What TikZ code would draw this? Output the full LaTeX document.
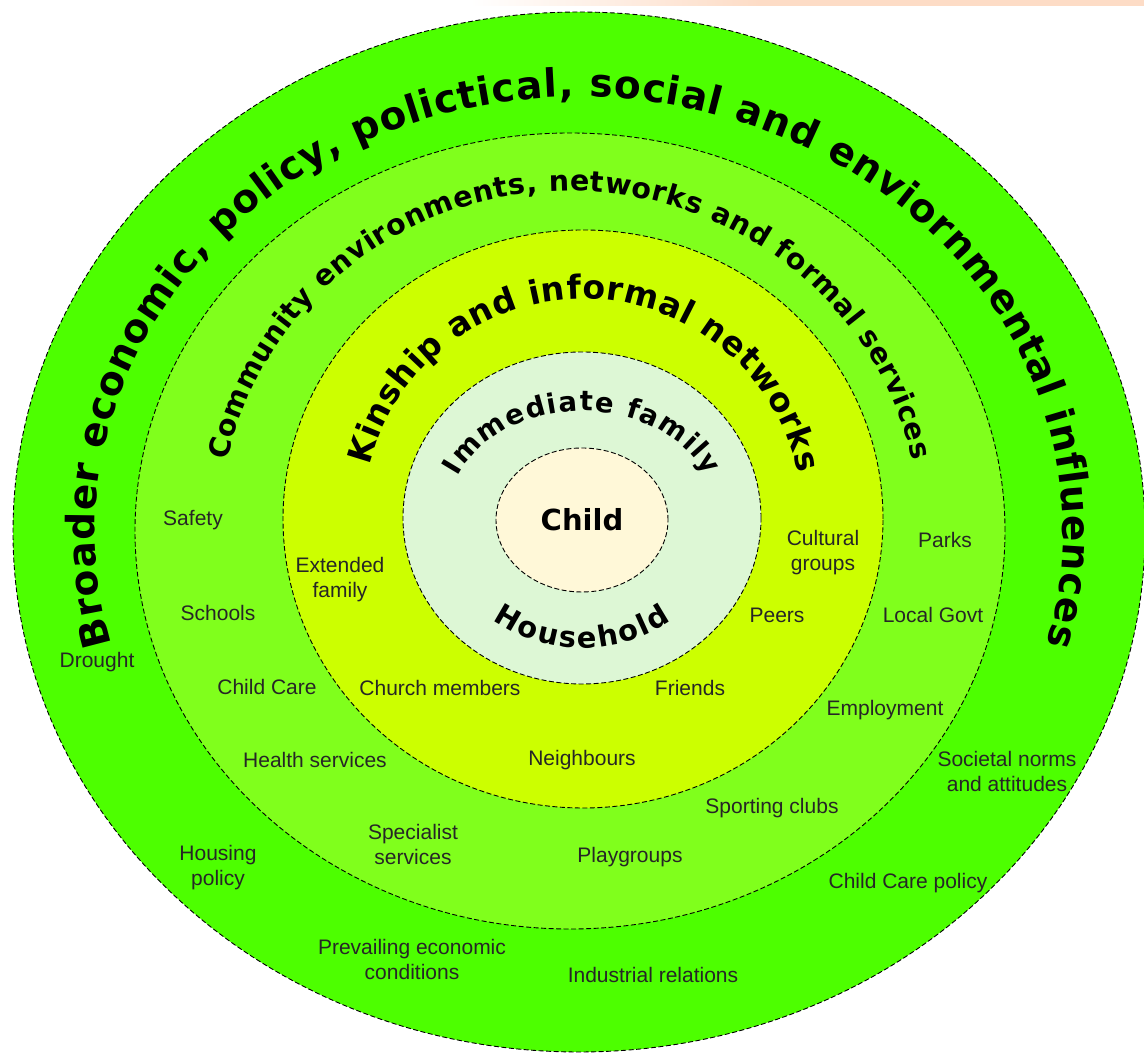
\documentclass[tikz,border=0pt]{standalone}
\usepackage{fontspec}
\newfontfamily\labelsf{Liberation Sans}
\newfontfamily\ringsf{DejaVu Sans}
\usetikzlibrary{decorations.text}
\definecolor{broad}{HTML}{4DFF00}
\definecolor{comm}{HTML}{80FF1C}
\definecolor{kin}{HTML}{CCFF00}
\definecolor{imm}{HTML}{DDF7D5}
\definecolor{kid}{HTML}{FFF8D8}
\definecolor{peach}{HTML}{FDDCC6}

\begin{document}
\begin{tikzpicture}[x=1pt,y=1pt,
    ring/.style={draw=black,line width=0.9pt,dash pattern=on 5pt off 2.5pt},
    lbl/.style={font=\labelsf\fontsize{21}{25}\selectfont,align=center,text=black!85},
    curved/.style={decorate,decoration={text along path,text align={fit to path},text={#1}}}]
  \useasboundingbox (0,0) rectangle (1144,1056);
  \fill[white] (0,0) rectangle (1144,1056);
  \fill[left color=white,right color=peach] (470,1050) rectangle (760,1056);
  \fill[peach] (760,1050) rectangle (1144,1056);

  \filldraw[ring,fill=broad] (579,524) ellipse [x radius=566,y radius=520];
  \filldraw[ring,fill=comm] (570,525) ellipse [x radius=435,y radius=398];
  \filldraw[ring,fill=kin] (583,537) ellipse [x radius=300,y radius=289];
  \filldraw[ring,fill=imm] (582,538) ellipse [x radius=179,y radius=166];
  \filldraw[ring,fill=kid] (582,536) ellipse [x radius=86,y radius=72];

  \path[curved={|\ringsf\bfseries\fontsize{39}{41}\selectfont|Broader economic, policy, polictical, social and enviornmental influences}]
    (579,524) ++(195:484 and 435) arc[start angle=195,end angle=-15,x radius=484,y radius=435];
  \path[curved={|\ringsf\bfseries\fontsize{28.5}{30}\selectfont|Community environments, networks and formal services}]
    (570,525) ++(168:350 and 340) arc[start angle=168,end angle=12,x radius=350,y radius=340];
  \path[curved={|\ringsf\bfseries\fontsize{33}{35}\selectfont|Kinship and informal networks}]
    (583,537) ++(166:220 and 220) arc[start angle=166,end angle=12,radius=220];
  \path[curved={|\ringsf\bfseries\fontsize{27.5}{30}\selectfont|Immediate family}]
    (582,538) ++(157:135 and 107) arc[start angle=157,end angle=23,x radius=135,y radius=107];
  \path[curved={|\ringsf\bfseries\fontsize{29}{31}\selectfont|Household}]
    (582,538) ++(232:145 and 130) arc[start angle=232,end angle=308,x radius=145,y radius=130];

  \node[font=\ringsf\bfseries\fontsize{29}{31}\selectfont] (child) at (582,536) {Child};

  \node[lbl] (safety) at (193,536) {Safety};
  \node[lbl] (schools) at (218,443) {Schools};
  \node[lbl] (drought) at (97,394) {Drought};
  \node[lbl] (childcare) at (267,369) {Child Care};
  \node[lbl] (health) at (315,296) {Health services};
  \node[lbl] (extended) at (340,476) {Extended\\family};
  \node[lbl] (church) at (440,368) {Church members};
  \node[lbl] (friends) at (690,368) {Friends};
  \node[lbl] (neighbours) at (582,296) {Neighbours};
  \node[lbl] (cultural) at (823,503) {Cultural\\groups};
  \node[lbl] (parks) at (945,516) {Parks};
  \node[lbl] (peers) at (777,441) {Peers};
  \node[lbl] (localgovt) at (933,441) {Local Govt};
  \node[lbl] (employment) at (885,346) {Employment};
  \node[lbl] (societal) at (1007,284) {Societal norms\\and attitudes};
  \node[lbl] (sporting) at (772,248) {Sporting clubs};
  \node[lbl] (specialist) at (413,211) {Specialist\\services};
  \node[lbl] (playgroups) at (630,199) {Playgroups};
  \node[lbl] (housing) at (218,188) {Housing\\policy};
  \node[lbl] (ccpolicy) at (908,173) {Child Care policy};
  \node[lbl] (prevailing) at (412,96) {Prevailing economic\\conditions};
  \node[lbl] (industrial) at (653,81) {Industrial relations};
\end{tikzpicture}
\end{document}
